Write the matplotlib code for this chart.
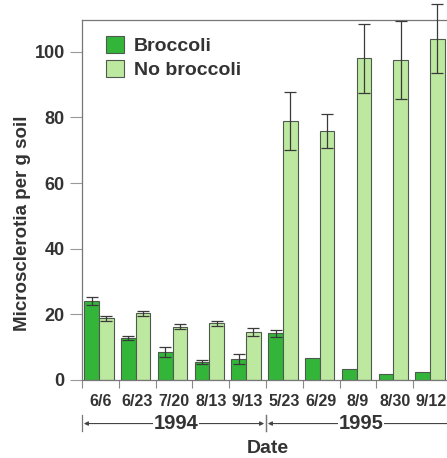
import matplotlib
matplotlib.use("Agg")
import matplotlib.pyplot as plt
import numpy as np

plt.rcParams['font.family'] = ['Liberation Sans', 'DejaVu Sans']

dates = ["6/6", "6/23", "7/20", "8/13", "9/13", "5/23", "6/29", "8/9", "8/30", "9/12"]
broccoli = [24.2, 12.7, 8.6, 5.4, 6.3, 14.2, 6.6, 3.2, 1.7, 2.5]
broccoli_err = [1.2, 0.6, 1.6, 0.6, 1.5, 1.0, 0, 0, 0, 0]
no_broccoli = [18.8, 20.3, 16.3, 17.3, 14.5, 79.0, 76.0, 98.0, 97.5, 104.0]
no_broccoli_err = [0.8, 0.8, 0.8, 0.7, 1.2, 8.8, 5.2, 10.6, 11.8, 10.6]
years = ["1994", "1995"]
series_names = ["Broccoli", "No broccoli"]

txt = "#333333"
c_dark = "#33b53a"
c_light = "#bde8a0"
edge = "#4d5a4d"

fig = plt.figure(figsize=(4.47, 4.58), dpi=100)
ax = fig.add_axes([82/447, 78/458, 368/447, 360/458])

x = np.arange(len(dates))
w = 0.40
ax.bar(x + 0.26, broccoli, w, color=c_dark, edgecolor=edge, linewidth=0.8,
       label=series_names[0], zorder=2)
ax.bar(x + 0.66, no_broccoli, w, color=c_light, edgecolor=edge, linewidth=0.8,
       label=series_names[1], zorder=2)
eb_kw = dict(fmt='none', ecolor='#3a3a3a', elinewidth=0.9, capsize=4.5,
             capthick=0.9, zorder=3, clip_on=False)
bx = x + 0.26
be = np.array(broccoli_err)
m = be > 0
ax.errorbar(bx[m], np.array(broccoli)[m], yerr=be[m], **eb_kw)
ax.errorbar(x + 0.66, no_broccoli, yerr=no_broccoli_err, **eb_kw)

ax.set_xlim(0, 10)
ax.set_ylim(0, 109.7)
ax.set_yticks([0, 20, 40, 60, 80, 100])
ax.tick_params(axis='y', direction='out', length=9, width=0.8, color='#999999',
               labelsize=13, labelcolor=txt, pad=3.5)
for lab in ax.get_yticklabels():
    lab.set_fontweight('bold')

ax.set_xticks(np.arange(0, 11))
ax.set_xticklabels([])
ax.tick_params(axis='x', which='major', direction='out', length=6, width=0.8, color='#888888')
ax.set_xticks(x + 0.5, minor=True)
ax.set_xticklabels(dates, minor=True, fontsize=11.5, fontweight='bold', color=txt)
ax.tick_params(axis='x', which='minor', length=0, pad=10)

for s in ['left', 'top', 'bottom', 'right']:
    ax.spines[s].set_color('#777777')
    ax.spines[s].set_linewidth(0.9)

leg = ax.legend(loc='upper left', bbox_to_anchor=(0.065, 0.955), frameon=False,
                fontsize=14, handlelength=0.95, handleheight=0.95,
                handletextpad=0.5, labelspacing=0.25, borderpad=0, borderaxespad=0)
for t in leg.get_texts():
    t.set_fontweight('bold')
    t.set_color(txt)

ax.text(-0.163, 0.436, "Microsclerotia per g soil", transform=ax.transAxes,
        rotation=90, ha='center', va='center', fontsize=13.5, fontweight='bold', color=txt)

trans = ax.get_xaxis_transform()
yy = -0.121
spans = [(0.0, 5.0), (5.0, 10.25)]
centers = [2.55, 7.58]
for (a, b), cx, yr in zip(spans, centers, years):
    ax.annotate("", xy=(a + 0.05, yy), xytext=(b - 0.05, yy), xycoords=trans,
                textcoords=trans, annotation_clip=False,
                arrowprops=dict(arrowstyle='<|-|>', color='#444444', lw=0.8,
                                mutation_scale=6, shrinkA=0, shrinkB=0))
    ax.text(cx, yy, yr, transform=trans, ha='center', va='center', fontsize=14.5,
            fontweight='bold', color=txt,
            bbox=dict(facecolor='white', edgecolor='none', pad=0.5))
    for xv in (a, b):
        ax.plot([xv, xv], [-0.097, -0.141], transform=trans, color='#777777',
                lw=0.9, clip_on=False)

ax.text(5.05, -0.166, "Date", transform=trans, ha='center', va='top',
        fontsize=14, fontweight='bold', color=txt)

fig.savefig("out.png", dpi=100)
